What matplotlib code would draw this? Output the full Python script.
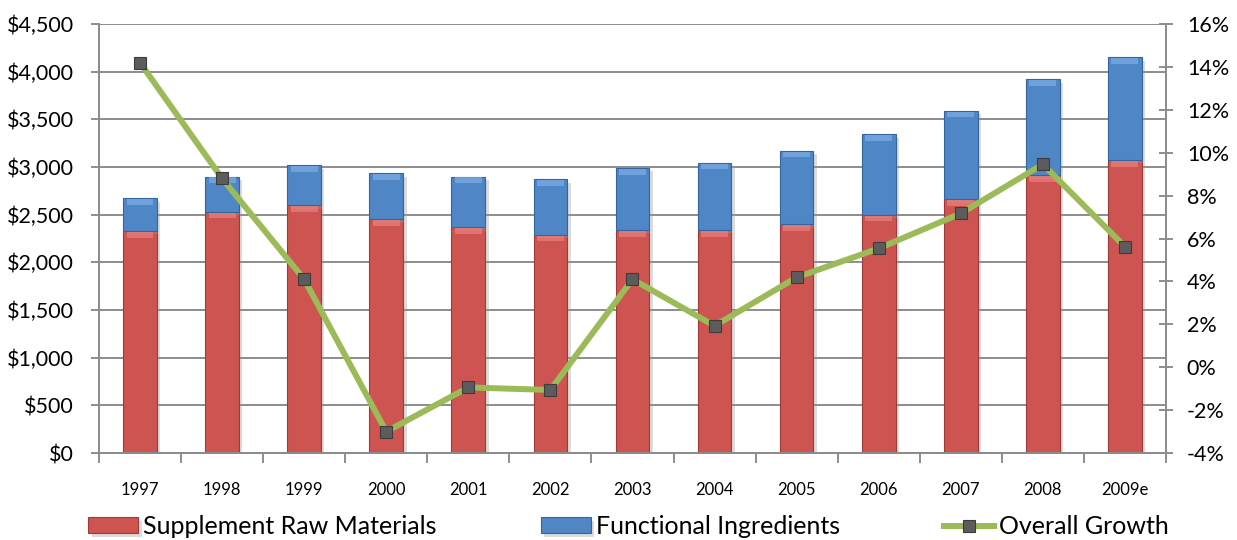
import matplotlib
matplotlib.use("Agg")
import matplotlib.pyplot as plt
import matplotlib.patheffects as pe
import numpy as np
from matplotlib.ticker import FuncFormatter, FixedLocator

plt.rcParams['font.family'] = ['Lato', 'DejaVu Sans']

years = ['1997', '1998', '1999', '2000', '2001', '2002', '2003',
         '2004', '2005', '2006', '2007', '2008', '2009e']
raw_materials = [2330, 2530, 2600, 2450, 2370, 2290, 2340,
                 2340, 2400, 2500, 2660, 2915, 3075]
functional = [340, 370, 420, 485, 530, 580, 650,
              705, 770, 845, 930, 1005, 1075]
growth = [14.2, 8.8, 4.1, -3.0, -0.94, -1.06, 4.1,
          1.93, 4.19, 5.54, 7.17, 9.46, 5.62]

RED = '#cd5451'
RED_HI = '#ec7f7c'
BLUE = '#4f86c6'
BLUE_HI = '#7eaee6'
GREEN = '#9bbb59'
GRID = '#8c8c8c'

fig = plt.figure(figsize=(12.37, 5.40), dpi=100)
ax = fig.add_axes([0.080, 0.161, 0.8626, 0.7946])
ax2 = ax.twinx()

x = np.arange(len(years))
w = 0.41
shadow = [pe.SimplePatchShadow(offset=(2.5, -2.5), shadow_rgbFace='#999999', alpha=0.35), pe.Normal()]

b1 = ax.bar(x, raw_materials, w, color=RED, edgecolor='#9e3b39', linewidth=0.8,
            zorder=3, path_effects=shadow, label='Supplement Raw Materials')
b2 = ax.bar(x, functional, w, bottom=raw_materials, color=BLUE, edgecolor='#35659e',
            linewidth=0.8, zorder=3, path_effects=shadow, label='Functional Ingredients')

# bevel highlight strip at the top of each segment
tops_red = np.array(raw_materials)
tops_all = tops_red + np.array(functional)
hi = 60
ax.bar(x, [hi] * len(x), w * 0.8, bottom=tops_red - hi - 10, color=RED_HI, linewidth=0, zorder=4, alpha=0.7)
ax.bar(x, [hi] * len(x), w * 0.8, bottom=tops_all - hi - 10, color=BLUE_HI, linewidth=0, zorder=4, alpha=0.7)

ax.set_xlim(-0.5, len(years) - 0.5)
ax.set_ylim(0, 4500)
ax.set_yticks(np.arange(0, 4501, 500))
ax.yaxis.set_major_formatter(FuncFormatter(lambda v, p: '${:,.0f}'.format(v)))
ax.grid(axis='y', color=GRID, linewidth=1.4, zorder=0)
ax.set_axisbelow(True)

ax.set_xticks(x)
ax.set_xticklabels(years, fontsize=12)
ax.xaxis.set_minor_locator(FixedLocator(np.arange(-0.5, len(years), 1)))
ax.tick_params(axis='x', which='major', length=0, pad=21)
ax.tick_params(axis='x', which='minor', length=7, width=1.4, color=GRID, direction='out')
ax.tick_params(axis='y', length=6, width=1.4, color=GRID, labelsize=15.5, pad=12)

ax2.plot(x, growth, color=GREEN, linewidth=4.3, zorder=5, marker='s', markersize=9,
         markerfacecolor='#5c5c5c', markeredgecolor='#3c3c3c', markeredgewidth=0.8,
         label='Overall Growth')
ax2.set_ylim(-4, 16)
ax2.set_yticks(np.arange(-4, 17, 2))
ax2.yaxis.set_major_formatter(FuncFormatter(lambda v, p: '{:.0f}%'.format(v)))
ax2.tick_params(axis='y', length=10, width=1.4, color=GRID, direction='inout', labelsize=15.5, pad=10)

for a in (ax, ax2):
    a.spines['top'].set_visible(False)
    for s in ('left', 'right', 'bottom'):
        a.spines[s].set_color(GRID)
        a.spines[s].set_linewidth(1.4)

ax.set_zorder(ax2.get_zorder() - 1)
ax.patch.set_visible(True)
ax2.patch.set_visible(False)

handles = [b1, b2, ax2.get_lines()[0]]
labels = ['Supplement Raw Materials', 'Functional Ingredients', 'Overall Growth']
fig.legend(handles, labels, loc='lower center', bbox_to_anchor=(0.508, -0.038), ncol=3,
           frameon=False, fontsize=18, handlelength=2.0, handleheight=0.6,
           handletextpad=0.2, columnspacing=4.15)

fig.savefig('out.png', dpi=100)
